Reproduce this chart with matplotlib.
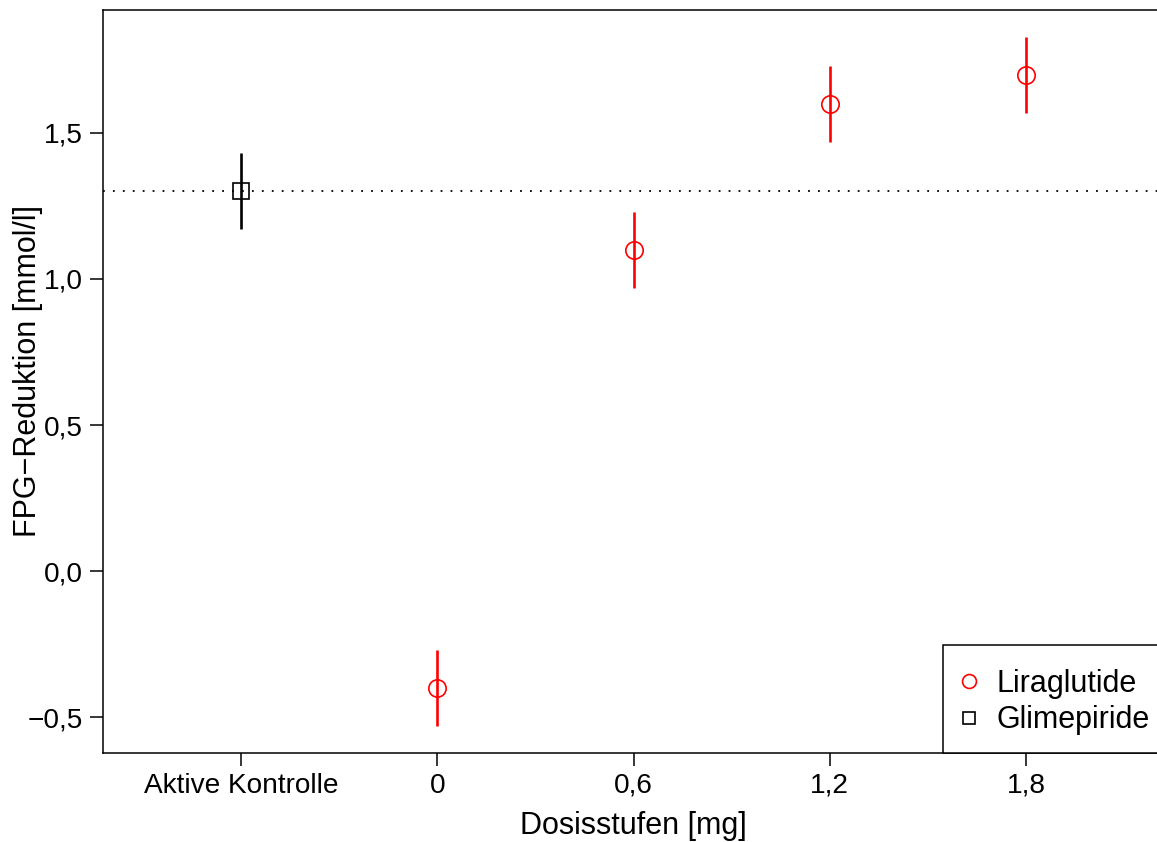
import matplotlib
matplotlib.use("Agg")
import matplotlib.pyplot as plt
from matplotlib.lines import Line2D
from matplotlib.patches import Rectangle
from matplotlib.ticker import FuncFormatter

plt.rcParams['font.family'] = ['Liberation Sans', 'DejaVu Sans']

# Data
categories = ["Aktive Kontrolle", "0", "0,6", "1,2", "1,8"]
lira_pos = [1, 2, 3, 4]
lira_vals = [-0.4, 1.1, 1.6, 1.7]
lira_err = [0.13, 0.13, 0.13, 0.13]
glim_pos = [0]
glim_vals = [1.3]
glim_err = [0.13]
reference_level = 1.3
yticks = [-0.5, 0.0, 0.5, 1.0, 1.5]

W, H = 1157, 842
fig = plt.figure(figsize=(W / 100, H / 100), dpi=100)
left, right, top, bottom = 103, 1164, 10, 753
aw, ah = right - left, bottom - top
ax = fig.add_axes([left / W, 1 - bottom / H, aw / W, ah / H])

ax.set_xlim(-0.704, 4.704)
ax.set_ylim(-0.623, 1.921)

ax.axhline(reference_level, color='black', linestyle=(0, (1, 4.5)), linewidth=1.3, zorder=1)

ax.errorbar(glim_pos, glim_vals, yerr=glim_err, fmt='none', ecolor='black',
            elinewidth=1.9, capsize=0, zorder=2)
ax.plot(glim_pos, glim_vals, linestyle='none', marker='s', markersize=11.5,
        markerfacecolor='none', markeredgecolor='black', markeredgewidth=1.2, zorder=3)

ax.errorbar(lira_pos, lira_vals, yerr=lira_err, fmt='none', ecolor='#ff0000',
            elinewidth=1.9, capsize=0, zorder=2)
ax.plot(lira_pos, lira_vals, linestyle='none', marker='o', markersize=12.5,
        markerfacecolor='none', markeredgecolor='#ff0000', markeredgewidth=1.2, zorder=3)

ax.set_xticks(range(len(categories)))
ax.set_xticklabels(categories)
ax.set_yticks(yticks)
ax.yaxis.set_major_formatter(FuncFormatter(lambda v, p: f"{v:.1f}".replace('.', ',').replace('-', '\u2212')))

ax.tick_params(axis='both', direction='out', length=9.4, width=1.1, labelsize=20.2, pad=5, color='black')
for s in ax.spines.values():
    s.set_linewidth(1.1)

ax.set_xlabel("Dosisstufen [mg]", fontsize=22)
ax.xaxis.set_label_coords(0.5, (bottom - 826) / ah)
ax.xaxis.label.set_verticalalignment('center')
ax.set_ylabel("FPG\u2212Reduktion [mmol/l]", fontsize=22)
ax.yaxis.set_label_coords((28 - left) / aw, (bottom - 371) / ah)
ax.yaxis.label.set_verticalalignment('center')

# Legend box in the lower right corner
box = Rectangle(((943 - left) / aw, 0), (right + 5 - 943) / aw, (753 - 645) / ah,
                transform=ax.transAxes, facecolor='white', edgecolor='black',
                linewidth=1.1, zorder=5, clip_on=False)
ax.add_patch(box)

handles = [
    Line2D([], [], linestyle='none', marker='o', markersize=10, markerfacecolor='none',
           markeredgecolor='#ff0000', markeredgewidth=1.2, label='Liraglutide'),
    Line2D([], [], linestyle='none', marker='s', markersize=9, markerfacecolor='none',
           markeredgecolor='black', markeredgewidth=1.2, label='Glimepiride'),
]
leg = ax.legend(handles=handles, loc='center left',
                bbox_to_anchor=((957 - left) / aw, (bottom - 702) / ah),
                borderaxespad=0, borderpad=0, fontsize=22, frameon=False,
                handlelength=0.8, handletextpad=0.5, labelspacing=0.22)
leg.set_zorder(6)

fig.savefig("out.png", dpi=100)
